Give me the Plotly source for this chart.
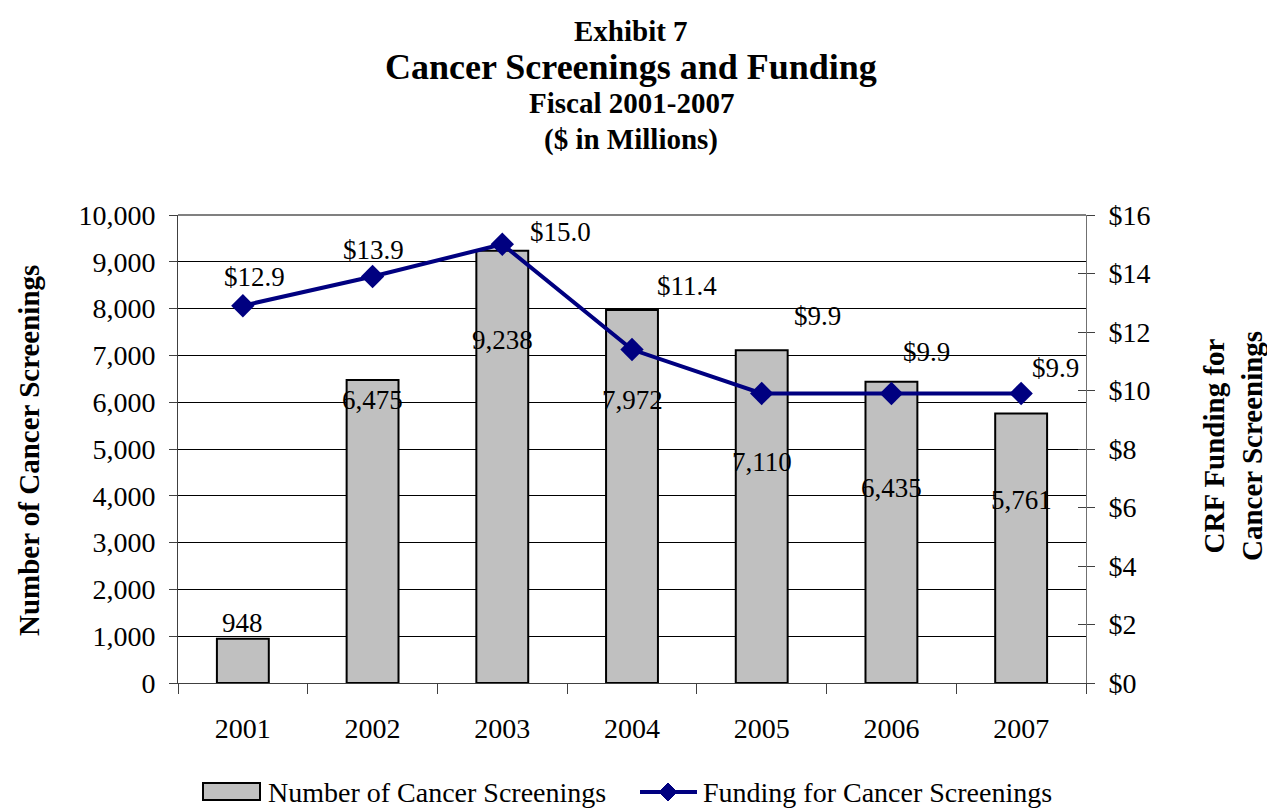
import plotly.graph_objects as go

# Fiscal years and values
years = ["2001", "2002", "2003", "2004", "2005", "2006", "2007"]
screenings = [948, 6475, 9238, 7972, 7110, 6435, 5761]
funding = [12.9, 13.9, 15.0, 11.4, 9.9, 9.9, 9.9]

bar_name = "Number of Cancer Screenings"
line_name = "Funding for Cancer Screenings"

# Label placement offsets in pixels (dx, dy; dy positive = downward)
bar_label_offsets = [(0, -16), (0, 20), (0, 89), (0, 90), (0, 112), (0, 106), (0, 87)]
line_label_offsets = [(12, -29), (1, -26), (58, -12), (55, -64), (56, -77), (35, -41), (34, -25)]

SERIF = "Liberation Serif, Times New Roman, serif"
NAVY = "#000080"
BAR_GRAY = "#C0C0C0"

W, H = 1267, 810
M_L, M_R, M_T, M_B = 178, 181, 215, 127
PLOT_H = H - M_T - M_B
PLOT_W = W - M_L - M_R


def px_x(x):
    """Page pixel x -> paper x."""
    return (x - M_L) / PLOT_W


def px_y(y):
    """Page pixel y (from top) -> paper y."""
    return (H - M_B - y) / PLOT_H


fig = go.Figure()

fig.add_trace(go.Bar(
    x=years, y=screenings, name=bar_name,
    marker=dict(color=BAR_GRAY, line=dict(color="black", width=2)),
    width=0.4, yaxis="y",
))

fig.add_trace(go.Scatter(
    x=years, y=funding, name=line_name,
    mode="lines+markers", yaxis="y2",
    line=dict(color=NAVY, width=4),
    marker=dict(symbol="diamond", size=18, color=NAVY),
))

annotations = []
LABEL_FONT = dict(family=SERIF, size=27, color="black")
# On a category axis, annotation x is the category's serial index
for i, (v, (dx, dy)) in enumerate(zip(screenings, bar_label_offsets)):
    annotations.append(dict(
        x=i, y=v, xref="x", yref="y", text=f"{v:,}", showarrow=False,
        xshift=dx, yshift=-dy, font=LABEL_FONT,
    ))
for i, (v, (dx, dy)) in enumerate(zip(funding, line_label_offsets)):
    annotations.append(dict(
        x=i, y=v, xref="x", yref="y2", text=f"${v:.1f}", showarrow=False,
        xshift=dx, yshift=-dy, font=LABEL_FONT,
    ))

# Title block
titles = [
    ("<b>Exhibit 7</b>", 29, 31),
    ("<b>Cancer Screenings and Funding</b>", 36, 67),
    ("<b>Fiscal 2001-2007</b>", 29, 103),
    ("<b>($ in Millions)</b>", 29, 140),
]
for txt, size, ypx in titles:
    annotations.append(dict(
        x=px_x(631), y=px_y(ypx), xref="paper", yref="paper",
        yanchor="middle", xanchor="center", text=txt, showarrow=False,
        font=dict(family=SERIF, size=size, color="black"),
    ))

# Axis titles
annotations.append(dict(
    x=px_x(29), y=px_y(451), xref="paper", yref="paper", textangle=-90,
    xanchor="center", yanchor="middle", showarrow=False,
    text="<b>Number of Cancer Screenings</b>",
    font=dict(family=SERIF, size=29, color="black"),
))
annotations.append(dict(
    x=px_x(1233), y=px_y(446), xref="paper", yref="paper", textangle=-90,
    xanchor="center", yanchor="middle", showarrow=False,
    text="<b>CRF Funding for<br>Cancer Screenings</b>",
    font=dict(family=SERIF, size=29, color="black"),
))

# Legend (drawn as shapes + text at the bottom)
LEG_Y = 792
annotations.append(dict(
    x=px_x(266), y=px_y(LEG_Y), xref="paper", yref="paper", xanchor="left",
    yanchor="middle", showarrow=False, text=bar_name,
    font=dict(family=SERIF, size=28, color="black"),
))
annotations.append(dict(
    x=px_x(701), y=px_y(LEG_Y), xref="paper", yref="paper", xanchor="left",
    yanchor="middle", showarrow=False, text=line_name,
    font=dict(family=SERIF, size=28, color="black"),
))

shapes = [
    # plot-area top border
    dict(type="line", xref="paper", yref="paper", x0=0, x1=1, y0=1, y1=1,
         line=dict(color="#808080", width=2)),
    # legend swatch: bar
    dict(type="rect", xref="paper", yref="paper",
         x0=px_x(203), x1=px_x(260), y0=px_y(LEG_Y + 8), y1=px_y(LEG_Y - 9),
         fillcolor=BAR_GRAY, line=dict(color="black", width=2)),
    # legend swatch: line
    dict(type="line", xref="paper", yref="paper",
         x0=px_x(640), x1=px_x(697), y0=px_y(LEG_Y), y1=px_y(LEG_Y),
         line=dict(color=NAVY, width=4)),
    dict(type="path", xref="paper", yref="paper",
         path=(f"M {px_x(668)} {px_y(LEG_Y - 9)} L {px_x(677)} {px_y(LEG_Y)} "
               f"L {px_x(668)} {px_y(LEG_Y + 9)} L {px_x(659)} {px_y(LEG_Y)} Z"),
         fillcolor=NAVY, line=dict(color=NAVY, width=1)),
]

fig.update_layout(
    width=W, height=H,
    margin=dict(l=M_L, r=M_R, t=M_T, b=M_B, autoexpand=False),
    paper_bgcolor="white", plot_bgcolor="white",
    font=dict(family=SERIF, size=28, color="black"),
    showlegend=False,
    xaxis=dict(
        type="category", range=[-0.5, 6.5], showgrid=False, showline=True,
        linecolor="#404040", linewidth=1, ticks="outside",
        tickson="boundaries", ticklen=10, tickcolor="#404040",
        tickfont=dict(family=SERIF, size=28), ticklabelstandoff=20,
    ),
    yaxis=dict(
        range=[0, 10000], dtick=1000, tickformat=",", showgrid=True,
        gridcolor="black", gridwidth=1, showline=True, linecolor="#404040",
        ticks="outside", ticklen=8, tickcolor="#404040",
        tickfont=dict(family=SERIF, size=28), zeroline=False,
        ticklabelstandoff=8,
    ),
    yaxis2=dict(
        range=[0, 16], dtick=2, tickprefix="$", overlaying="y", side="right",
        showgrid=False, showline=True, linecolor="#707070", ticks="outside",
        ticklen=8, tickcolor="#404040", tickfont=dict(family=SERIF, size=28),
        zeroline=False, ticklabelstandoff=8,
    ),
    # inner half of the crossing tick marks on the right axis
    yaxis3=dict(
        range=[0, 16], dtick=2, overlaying="y", side="right", anchor="x",
        showgrid=False, showline=False, ticks="inside", ticklen=8,
        tickcolor="#404040", showticklabels=False, zeroline=False,
    ),
    annotations=annotations,
    shapes=shapes,
)

# invisible trace to activate the tick-only axis
fig.add_trace(go.Scatter(x=years, y=funding, yaxis="y3", mode="none",
                         showlegend=False, hoverinfo="skip"))

fig.write_html("out.html")
